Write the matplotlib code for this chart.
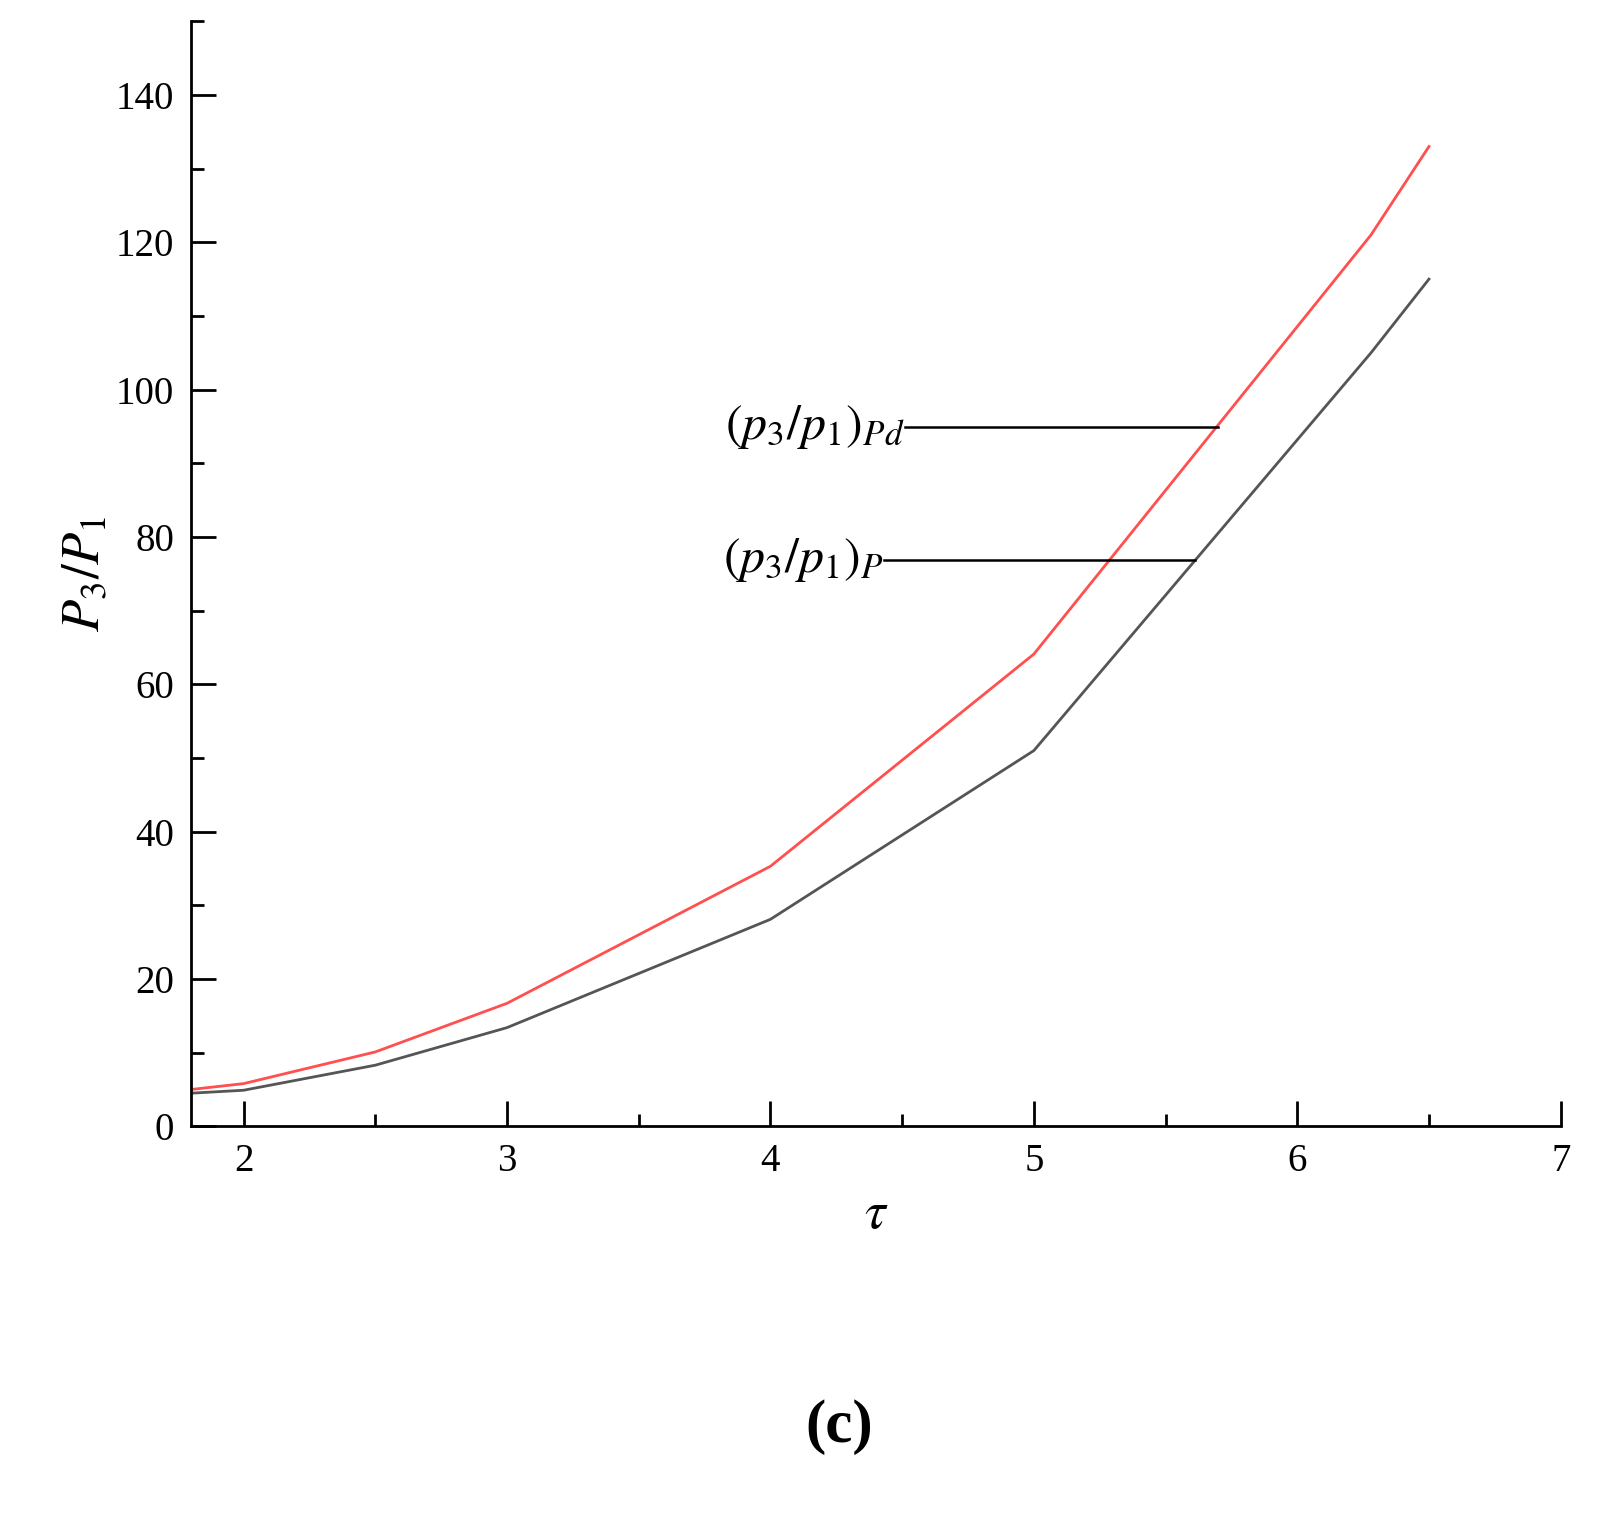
import matplotlib.pyplot as plt
from matplotlib.ticker import MultipleLocator

# ============== DATA ==============
tau = [1.8, 2.0, 2.5, 3.0, 4.0, 5.0, 6.28, 6.5]
ratio_pd = [5.0, 5.8, 10.1, 16.7, 35.3, 64.1, 121.0, 133.0]
ratio_p = [4.5, 4.9, 8.3, 13.4, 28.1, 51.0, 105.0, 115.0]
# ==================================

plt.rcParams["font.family"] = ["Liberation Serif", "DejaVu Serif"]
plt.rcParams["mathtext.fontset"] = "stix"

fig = plt.figure(figsize=(16.04, 15.18), dpi=100)
ax = fig.add_axes([0.119, 0.258, 0.854, 0.728])

ax.plot(tau, ratio_pd, color="#ff4f4f", lw=2)
ax.plot(tau, ratio_p, color="#555555", lw=2)

# annotation leader lines
ax.plot([4.51, 5.70], [94.9, 94.9], color="black", lw=1.8)
ax.plot([4.43, 5.61], [76.9, 76.9], color="black", lw=1.8)
ax.text(4.51, 94.9, r"$(p_3/p_1)_{Pd}$", fontsize=36, ha="right", va="center")
ax.text(4.43, 76.9, r"$(p_3/p_1)_{P}$", fontsize=36, ha="right", va="center")

ax.set_xlim(1.8, 7)
ax.set_ylim(0, 150)
ax.xaxis.set_major_locator(MultipleLocator(1))
ax.xaxis.set_minor_locator(MultipleLocator(0.5))
ax.yaxis.set_minor_locator(MultipleLocator(10))
ax.set_yticks(range(0, 141, 20))
ax.tick_params(which="both", direction="in", width=2, labelsize=28, pad=12)
ax.tick_params(which="major", length=18)
ax.tick_params(which="minor", length=9)
for s in ["top", "right"]:
    ax.spines[s].set_visible(False)
for s in ["left", "bottom"]:
    ax.spines[s].set_linewidth(2)

ax.set_xlabel(r"$\tau$", fontsize=38, labelpad=8)
ax.set_ylabel(r"$P_3/P_1$", fontsize=38, labelpad=4)

fig.text(0.523, 0.06, "(c)", fontsize=44, fontweight="bold", ha="center", va="center")

fig.savefig("out.png", dpi=100)
